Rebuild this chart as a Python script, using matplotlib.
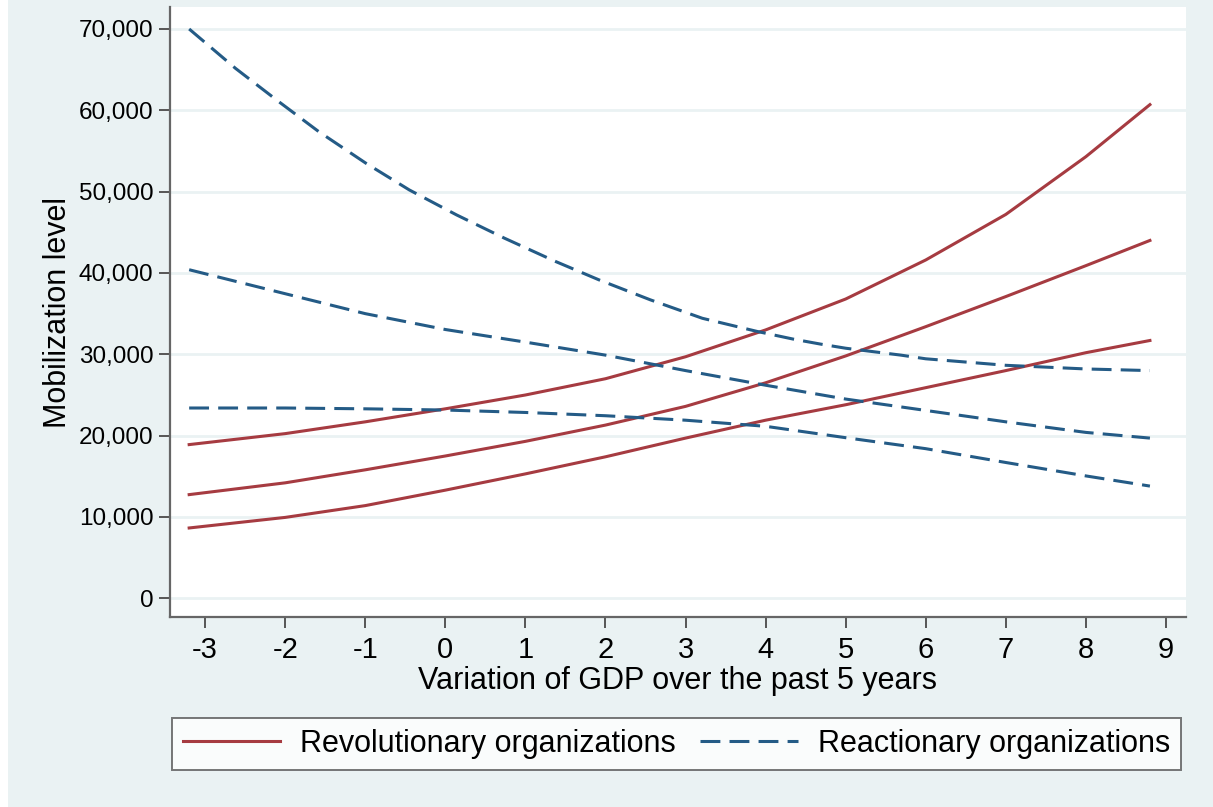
import matplotlib
matplotlib.use('Agg')
import numpy as np
from matplotlib import pyplot as plt
from matplotlib.patches import Rectangle
from matplotlib.ticker import FuncFormatter

plt.rcParams['font.family'] = ['Liberation Sans', 'DejaVu Sans']
plt.rcParams['axes.unicode_minus'] = False

# values (GDP variation -> mobilization level)
gdp = [-3.2, -2, -1, 0, 1, 2, 3, 4, 5, 6, 7, 8, 8.8]

revolutionary = [
    [18900, 20250, 21700, 23300, 25000, 27000, 29700, 33000, 36800, 41600, 47200, 54300, 60700],
    [12750, 14200, 15800, 17500, 19300, 21300, 23600, 26500, 29800, 33400, 37100, 40900, 44000],
    [8650, 9950, 11400, 13300, 15300, 17400, 19700, 21900, 23800, 25900, 28000, 30200, 31700],
]
reactionary = [
    [40400, 37450, 35000, 33050, 31500, 29900, 28000, 26200, 24500, 23100, 21700, 20400, 19700],
    [23400, 23400, 23300, 23150, 22850, 22450, 21900, 21150, 19750, 18400, 16700, 15050, 13800],
]
# the steep reactionary curve, read at more points
gdp_steep = [-3.2, -2.62, -2.08, -1.58, -0.99, -0.45, 0.14, 0.74, 1.38, 1.92, 2.56,
             3.21, 3.9, 4.35, 4.69, 5, 5.69, 6, 7, 8, 8.8]
reactionary_steep = [70000, 65150, 61060, 57370, 53480, 50210, 47140, 44270, 41400, 39150, 36700,
                     34430, 32800, 31860, 31250, 30750, 29900, 29450, 28650, 28200, 28000]

red = '#a63b41'
blue = '#245b86'
bg = '#eaf2f3'
dash = (6.5, 3.0)

fig = plt.figure(figsize=(12.13, 8.07), dpi=100, facecolor=bg)
# thin white strip on the left edge of the screenshot
fig.patches.append(Rectangle((0, 0), 8 / 1213, 1, transform=fig.transFigure,
                             facecolor='white', edgecolor='none', zorder=0))

ax = fig.add_axes([0.1401, 0.2354, 0.8376, 0.7559])
ax.set_facecolor('white')

for ys in revolutionary:
    ax.plot(gdp, ys, color=red, lw=2.2, solid_joinstyle='round')
ax.plot(gdp_steep, reactionary_steep, color=blue, lw=2.2, dashes=dash, dash_capstyle='butt')
for ys in reactionary:
    ax.plot(gdp, ys, color=blue, lw=2.2, dashes=dash, dash_capstyle='butt')

ax.set_xlim(-3.44, 9.25)
ax.set_ylim(-2300, 72700)
ax.set_xticks(range(-3, 10))
ax.set_yticks(range(0, 70001, 10000))
ax.yaxis.set_major_formatter(FuncFormatter(lambda v, p: f'{int(v):,}'))
ax.grid(axis='y', color=bg, lw=2)
ax.set_axisbelow(True)

for s in ['top', 'right']:
    ax.spines[s].set_visible(False)
for s in ['left', 'bottom']:
    ax.spines[s].set_color('#666666')
    ax.spines[s].set_linewidth(1.6)

ax.tick_params(axis='x', labelsize=21, length=8, width=1.4, color='#555555', pad=6)
ax.tick_params(axis='y', labelsize=17.5, length=8, width=1.4, color='#555555', pad=4)

ax.set_xlabel('Variation of GDP over the past 5 years', fontsize=22, labelpad=1)
ax.set_ylabel('Mobilization level', fontsize=22, labelpad=4)

h1, = ax.plot([], [], color=red, lw=2.2)
h2, = ax.plot([], [], color=blue, lw=2.2, dashes=dash)
leg = fig.legend([h1, h2], ['Revolutionary organizations', 'Reactionary organizations'],
                 loc='center', bbox_to_anchor=(0.5577, 0.0781),
                 ncol=2, fontsize=22, frameon=True, fancybox=False,
                 handlelength=3.2, handletextpad=0.65, columnspacing=0.8,
                 borderaxespad=0, borderpad=0.35)
leg.get_frame().set_edgecolor('#555555')
leg.get_frame().set_linewidth(1.4)

fig.savefig('out.png', dpi=100, facecolor=bg)
